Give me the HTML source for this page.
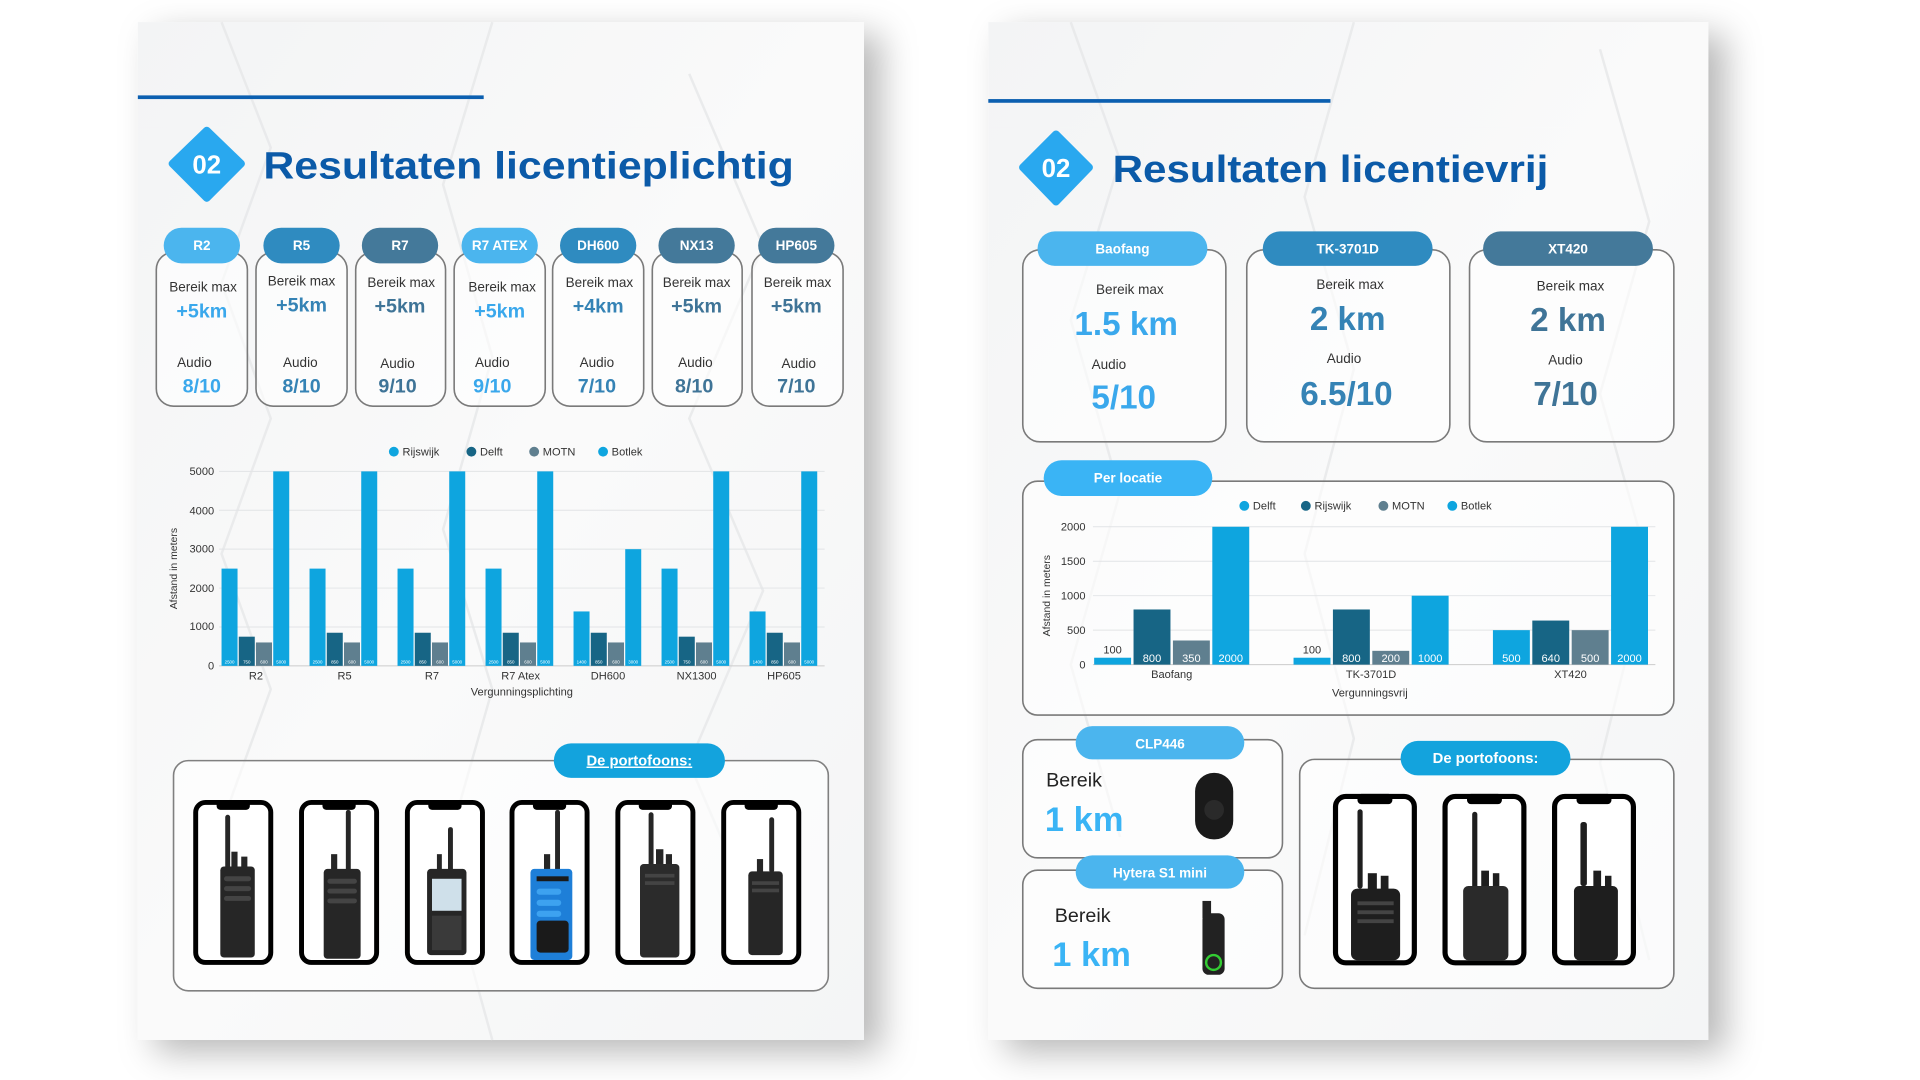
<!DOCTYPE html>
<html><head><meta charset="utf-8"><style>
html,body{margin:0;padding:0;background:#fff;width:1920px;height:1080px;overflow:hidden}
svg{display:block}
text{font-family:"Liberation Sans",Arial,sans-serif}
</style></head><body>
<svg width="1920" height="1080" viewBox="0 0 1560 877.5" xmlns="http://www.w3.org/2000/svg">
<defs>
<filter id="sh" x="-10%" y="-10%" width="130%" height="130%"><feDropShadow dx="14" dy="10" stdDeviation="14" flood-color="#000" flood-opacity="0.28"/></filter>
<linearGradient id="pg" x1="0" y1="0" x2="1" y2="1"><stop offset="0" stop-color="#f3f4f5"/><stop offset="0.5" stop-color="#fafafa"/><stop offset="1" stop-color="#f4f5f6"/></linearGradient>
<g id="phone"><rect x="2" y="2" width="61" height="130" rx="8" fill="#fff" stroke="#000" stroke-width="4"/><rect x="19" y="0" width="27" height="8" rx="3" fill="#000"/></g>
</defs>
<rect x="112" y="18" width="590" height="827" fill="url(#pg)" filter="url(#sh)"/>
<rect x="803" y="18" width="585" height="827" fill="url(#pg)" filter="url(#sh)"/>
<g stroke="#e6e7e9" stroke-width="2" fill="none" opacity="0.8">
<path d="M180 18 L220 120 L180 230 L220 340 L180 450 L220 560 L180 670 L220 780"/>
<path d="M400 18 L360 150 L400 290 L360 430 L400 560 L360 700 L400 845"/>
<path d="M560 60 L620 200 L560 340 L620 480 L560 620 L620 760"/>
<path d="M870 18 L910 130 L870 260 L910 400 L870 540 L910 680"/>
<path d="M1100 18 L1060 160 L1100 300 L1060 450 L1100 600 L1060 760"/>
<path d="M1300 40 L1340 180 L1300 320 L1340 460 L1300 620 L1340 780"/>
</g>

<rect x="112" y="77.5" width="281" height="3" fill="#0b5fb0"/>
<path d="M168 106 L196 133 L168 161 L140 133 Z" fill="#29a8ef" stroke="#29a8ef" stroke-width="6" stroke-linejoin="round"/>
<text x="168" y="141" font-size="21" font-weight="bold" fill="#fff" text-anchor="middle">02</text>
<text x="214" y="145" font-size="31" font-weight="bold" fill="#0b5aa8" textLength="431" lengthAdjust="spacingAndGlyphs">Resultaten licentieplichtig</text>

<g font-size="11" text-anchor="middle">
<g transform="translate(127,0)">
<rect x="0" y="205" width="74" height="125" rx="14" fill="#fff" fill-opacity="0.6" stroke="#7a7a7a" stroke-width="1.3"/>
<rect x="6" y="185" width="62" height="29" rx="14.5" fill="#4bb5ee"/>
<text x="37" y="203" fill="#fff" font-weight="bold" font-size="11">R2</text>
<text x="38" y="237" fill="#333">Bereik max</text>
<text x="37" y="258" fill="#3aa8ec" font-weight="bold" font-size="16">+5km</text>
<text x="31" y="298" fill="#333">Audio</text>
<text x="37" y="319" fill="#3aa8ec" font-weight="bold" font-size="16">8/10</text>
</g>
<g transform="translate(208,0)">
<rect x="0" y="205" width="74" height="125" rx="14" fill="#fff" fill-opacity="0.6" stroke="#7a7a7a" stroke-width="1.3"/>
<rect x="6" y="185" width="62" height="29" rx="14.5" fill="#2f8bc0"/>
<text x="37" y="203" fill="#fff" font-weight="bold" font-size="11">R5</text>
<text x="37" y="232" fill="#333">Bereik max</text>
<text x="37" y="253" fill="#3583b5" font-weight="bold" font-size="16">+5km</text>
<text x="36" y="298" fill="#333">Audio</text>
<text x="37" y="319" fill="#3583b5" font-weight="bold" font-size="16">8/10</text>
</g>
<g transform="translate(289,0)">
<rect x="0" y="205" width="73" height="125" rx="14" fill="#fff" fill-opacity="0.6" stroke="#7a7a7a" stroke-width="1.3"/>
<rect x="5" y="185" width="62" height="29" rx="14.5" fill="#44799a"/>
<text x="36" y="203" fill="#fff" font-weight="bold" font-size="11">R7</text>
<text x="37" y="233" fill="#333">Bereik max</text>
<text x="36" y="254" fill="#3f7497" font-weight="bold" font-size="16">+5km</text>
<text x="34" y="299" fill="#333">Audio</text>
<text x="34" y="319" fill="#3f7497" font-weight="bold" font-size="16">9/10</text>
</g>
<g transform="translate(369,0)">
<rect x="0" y="205" width="74" height="125" rx="14" fill="#fff" fill-opacity="0.6" stroke="#7a7a7a" stroke-width="1.3"/>
<rect x="6" y="185" width="62" height="29" rx="14.5" fill="#4bb5ee"/>
<text x="37" y="203" fill="#fff" font-weight="bold" font-size="11">R7 ATEX</text>
<text x="39" y="237" fill="#333">Bereik max</text>
<text x="37" y="258" fill="#3aa8ec" font-weight="bold" font-size="16">+5km</text>
<text x="31" y="298" fill="#333">Audio</text>
<text x="31" y="319" fill="#3aa8ec" font-weight="bold" font-size="16">9/10</text>
</g>
<g transform="translate(449,0)">
<rect x="0" y="205" width="74" height="125" rx="14" fill="#fff" fill-opacity="0.6" stroke="#7a7a7a" stroke-width="1.3"/>
<rect x="6" y="185" width="62" height="29" rx="14.5" fill="#2f8bc0"/>
<text x="37" y="203" fill="#fff" font-weight="bold" font-size="11">DH600</text>
<text x="38" y="233" fill="#333">Bereik max</text>
<text x="37" y="254" fill="#3583b5" font-weight="bold" font-size="16">+4km</text>
<text x="36" y="298" fill="#333">Audio</text>
<text x="36" y="319" fill="#3583b5" font-weight="bold" font-size="16">7/10</text>
</g>
<g transform="translate(530,0)">
<rect x="0" y="205" width="73" height="125" rx="14" fill="#fff" fill-opacity="0.6" stroke="#7a7a7a" stroke-width="1.3"/>
<rect x="5" y="185" width="62" height="29" rx="14.5" fill="#44799a"/>
<text x="36" y="203" fill="#fff" font-weight="bold" font-size="11">NX13</text>
<text x="36" y="233" fill="#333">Bereik max</text>
<text x="36" y="254" fill="#3f7497" font-weight="bold" font-size="16">+5km</text>
<text x="35" y="298" fill="#333">Audio</text>
<text x="34" y="319" fill="#3f7497" font-weight="bold" font-size="16">8/10</text>
</g>
<g transform="translate(611,0)">
<rect x="0" y="205" width="74" height="125" rx="14" fill="#fff" fill-opacity="0.6" stroke="#7a7a7a" stroke-width="1.3"/>
<rect x="5" y="185" width="62" height="29" rx="14.5" fill="#44799a"/>
<text x="36" y="203" fill="#fff" font-weight="bold" font-size="11">HP605</text>
<text x="37" y="233" fill="#333">Bereik max</text>
<text x="36" y="254" fill="#3f7497" font-weight="bold" font-size="16">+5km</text>
<text x="38" y="299" fill="#333">Audio</text>
<text x="36" y="319" fill="#3f7497" font-weight="bold" font-size="16">7/10</text>
</g>
</g>

<g font-size="9" fill="#333">
<circle cx="320" cy="367" r="4" fill="#0ea5df"/><text x="327" y="370">Rijswijk</text>
<circle cx="383" cy="367" r="4" fill="#176585"/><text x="390" y="370">Delft</text>
<circle cx="434" cy="367" r="4" fill="#5f7f8f"/><text x="441" y="370">MOTN</text>
<circle cx="490" cy="367" r="4" fill="#0ea5df"/><text x="497" y="370">Botlek</text>
</g>
<g stroke="#e2e4e6" stroke-width="0.8">
<line x1="178" y1="383" x2="670" y2="383"/><line x1="178" y1="414.6" x2="670" y2="414.6"/><line x1="178" y1="446.2" x2="670" y2="446.2"/><line x1="178" y1="477.8" x2="670" y2="477.8"/><line x1="178" y1="509.4" x2="670" y2="509.4"/><line x1="178" y1="541" x2="670" y2="541" stroke="#ccc"/>
</g>
<g font-size="9" fill="#333" text-anchor="end">
<text x="174" y="386">5000</text><text x="174" y="418">4000</text><text x="174" y="449">3000</text><text x="174" y="481">2000</text><text x="174" y="512">1000</text><text x="174" y="544">0</text>
</g>
<text transform="translate(144,462) rotate(-90)" font-size="8.5" fill="#333" text-anchor="middle">Afstand in meters</text>
<g font-size="9" fill="#333" text-anchor="middle">
<text x="208" y="552">R2</text><text x="280" y="552">R5</text><text x="351" y="552">R7</text><text x="423" y="552">R7 Atex</text><text x="494" y="552">DH600</text><text x="566" y="552">NX1300</text><text x="637" y="552">HP605</text>
<text x="424" y="565">Vergunningsplichting</text>
</g>
<g font-size="3.6" fill="#fff" text-anchor="middle">
<g transform="translate(180,0)"><rect x="0" y="462" width="13" height="79" fill="#0ea5df"/><rect x="14" y="517.3" width="13" height="23.7" fill="#176585"/><rect x="28" y="522" width="13" height="19" fill="#5f7f8f"/><rect x="42" y="383" width="13" height="158" fill="#0ea5df"/><text x="6.5" y="539">2500</text><text x="20.5" y="539">750</text><text x="34.5" y="539">600</text><text x="48.5" y="539">5000</text></g>
<g transform="translate(251.5,0)"><rect x="0" y="462" width="13" height="79" fill="#0ea5df"/><rect x="14" y="514.1" width="13" height="26.9" fill="#176585"/><rect x="28" y="522" width="13" height="19" fill="#5f7f8f"/><rect x="42" y="383" width="13" height="158" fill="#0ea5df"/><text x="6.5" y="539">2500</text><text x="20.5" y="539">850</text><text x="34.5" y="539">600</text><text x="48.5" y="539">5000</text></g>
<g transform="translate(323,0)"><rect x="0" y="462" width="13" height="79" fill="#0ea5df"/><rect x="14" y="514.1" width="13" height="26.9" fill="#176585"/><rect x="28" y="522" width="13" height="19" fill="#5f7f8f"/><rect x="42" y="383" width="13" height="158" fill="#0ea5df"/><text x="6.5" y="539">2500</text><text x="20.5" y="539">850</text><text x="34.5" y="539">600</text><text x="48.5" y="539">5000</text></g>
<g transform="translate(394.5,0)"><rect x="0" y="462" width="13" height="79" fill="#0ea5df"/><rect x="14" y="514.1" width="13" height="26.9" fill="#176585"/><rect x="28" y="522" width="13" height="19" fill="#5f7f8f"/><rect x="42" y="383" width="13" height="158" fill="#0ea5df"/><text x="6.5" y="539">2500</text><text x="20.5" y="539">850</text><text x="34.5" y="539">600</text><text x="48.5" y="539">5000</text></g>
<g transform="translate(466,0)"><rect x="0" y="496.8" width="13" height="44.2" fill="#0ea5df"/><rect x="14" y="514.1" width="13" height="26.9" fill="#176585"/><rect x="28" y="522" width="13" height="19" fill="#5f7f8f"/><rect x="42" y="446.2" width="13" height="94.8" fill="#0ea5df"/><text x="6.5" y="539">1400</text><text x="20.5" y="539">850</text><text x="34.5" y="539">600</text><text x="48.5" y="539">3000</text></g>
<g transform="translate(537.5,0)"><rect x="0" y="462" width="13" height="79" fill="#0ea5df"/><rect x="14" y="517.3" width="13" height="23.7" fill="#176585"/><rect x="28" y="522" width="13" height="19" fill="#5f7f8f"/><rect x="42" y="383" width="13" height="158" fill="#0ea5df"/><text x="6.5" y="539">2500</text><text x="20.5" y="539">750</text><text x="34.5" y="539">600</text><text x="48.5" y="539">5000</text></g>
<g transform="translate(609,0)"><rect x="0" y="496.8" width="13" height="44.2" fill="#0ea5df"/><rect x="14" y="514.1" width="13" height="26.9" fill="#176585"/><rect x="28" y="522" width="13" height="19" fill="#5f7f8f"/><rect x="42" y="383" width="13" height="158" fill="#0ea5df"/><text x="6.5" y="539">1400</text><text x="20.5" y="539">850</text><text x="34.5" y="539">600</text><text x="48.5" y="539">5000</text></g>
</g>

<rect x="141" y="618" width="532" height="187" rx="12" fill="#fff" fill-opacity="0.6" stroke="#808080" stroke-width="1.3"/>
<rect x="450" y="604" width="139" height="28" rx="14" fill="#13a3dd"/>
<text x="519.5" y="622" font-size="12" font-weight="bold" fill="#fff" text-anchor="middle" text-decoration="underline">De portofoons:</text>
<g fill="#262626">
<g transform="translate(157,650)"><use href="#phone"/><rect x="26" y="12" width="4" height="50" rx="2"/><rect x="31" y="42" width="5" height="14"/><rect x="39" y="46" width="5" height="10"/><rect x="22" y="54" width="28" height="74" rx="3"/><rect x="25" y="62" width="22" height="4" rx="2" fill="#444"/><rect x="25" y="70" width="22" height="4" rx="2" fill="#444"/><rect x="25" y="78" width="22" height="4" rx="2" fill="#444"/></g>
<g transform="translate(243,650)"><use href="#phone"/><rect x="38" y="8" width="4" height="55" rx="2"/><rect x="26" y="44" width="5" height="14"/><rect x="20" y="56" width="30" height="73" rx="3"/><rect x="23" y="64" width="24" height="4" rx="2" fill="#444"/><rect x="23" y="72" width="24" height="4" rx="2" fill="#444"/><rect x="23" y="80" width="24" height="4" rx="2" fill="#444"/></g>
<g transform="translate(329,650)"><use href="#phone"/><rect x="35" y="22" width="4" height="40" rx="2"/><rect x="26" y="44" width="4" height="14"/><rect x="18" y="56" width="32" height="70" rx="3"/><rect x="22" y="64" width="24" height="26" fill="#cfe0ea"/><rect x="22" y="94" width="24" height="28" fill="#3a3a3a"/></g>
<g transform="translate(414,650)"><use href="#phone"/><rect x="37" y="8" width="4" height="52" rx="2"/><rect x="28" y="44" width="5" height="14"/><rect x="17" y="56" width="34" height="74" rx="3" fill="#1e7fd8"/><rect x="22" y="62" width="26" height="4" fill="#1a1a1a"/><rect x="22" y="72" width="20" height="5" rx="2.5" fill="#3da2f0"/><rect x="22" y="81" width="20" height="5" rx="2.5" fill="#3da2f0"/><rect x="22" y="90" width="20" height="5" rx="2.5" fill="#3da2f0"/><rect x="22" y="98" width="26" height="26" rx="3" fill="#1a1a1a"/></g>
<g transform="translate(500,650)"><use href="#phone"/><rect x="27" y="10" width="4" height="50" rx="2"/><rect x="33" y="40" width="6" height="16"/><rect x="41" y="44" width="5" height="12"/><rect x="20" y="52" width="32" height="76" rx="3" fill="#2b2b2b"/><rect x="24" y="60" width="24" height="3" fill="#444"/><rect x="24" y="66" width="24" height="3" fill="#444"/></g>
<g transform="translate(586,650)"><use href="#phone"/><rect x="39" y="14" width="4" height="45" rx="2"/><rect x="29" y="48" width="5" height="12"/><rect x="22" y="58" width="28" height="68" rx="3"/><rect x="25" y="66" width="22" height="3" fill="#444"/><rect x="25" y="72" width="22" height="3" fill="#444"/></g>
</g>

<rect x="803" y="80.5" width="278" height="3" fill="#0b5fb0"/>
<path d="M858 109 L885 136 L858 164 L831 136 Z" fill="#29a8ef" stroke="#29a8ef" stroke-width="6" stroke-linejoin="round"/>
<text x="858" y="144" font-size="21" font-weight="bold" fill="#fff" text-anchor="middle">02</text>
<text x="904" y="148" font-size="31" font-weight="bold" fill="#0b5aa8" textLength="354" lengthAdjust="spacingAndGlyphs">Resultaten licentievrij</text>

<g text-anchor="middle">
<rect x="831" y="203" width="165" height="156" rx="14" fill="#fff" fill-opacity="0.6" stroke="#7a7a7a" stroke-width="1.3"/>
<rect x="843" y="188" width="138" height="28" rx="14" fill="#4bb5ee"/>
<text x="912" y="206" font-size="11" font-weight="bold" fill="#fff">Baofang</text>
<text x="918" y="239" font-size="11" fill="#333">Bereik max</text>
<text x="915" y="272" font-size="27" font-weight="bold" fill="#3aa8ec">1.5 km</text>
<text x="901" y="300" font-size="11" fill="#333">Audio</text>
<text x="913" y="332" font-size="27" font-weight="bold" fill="#3aa8ec">5/10</text>

<rect x="1013" y="203" width="165" height="156" rx="14" fill="#fff" fill-opacity="0.6" stroke="#7a7a7a" stroke-width="1.3"/>
<rect x="1026" y="188" width="138" height="28" rx="14" fill="#2f8bc0"/>
<text x="1095" y="206" font-size="11" font-weight="bold" fill="#fff">TK-3701D</text>
<text x="1097" y="235" font-size="11" fill="#333">Bereik max</text>
<text x="1095" y="268" font-size="27" font-weight="bold" fill="#3583b5">2 km</text>
<text x="1092" y="295" font-size="11" fill="#333">Audio</text>
<text x="1094" y="329" font-size="27" font-weight="bold" fill="#3583b5">6.5/10</text>

<rect x="1194" y="203" width="166" height="156" rx="14" fill="#fff" fill-opacity="0.6" stroke="#7a7a7a" stroke-width="1.3"/>
<rect x="1205" y="188" width="138" height="28" rx="14" fill="#44799a"/>
<text x="1274" y="206" font-size="11" font-weight="bold" fill="#fff">XT420</text>
<text x="1276" y="236" font-size="11" fill="#333">Bereik max</text>
<text x="1274" y="269" font-size="27" font-weight="bold" fill="#3f7497">2 km</text>
<text x="1272" y="296" font-size="11" fill="#333">Audio</text>
<text x="1272" y="329" font-size="27" font-weight="bold" fill="#3f7497">7/10</text>
</g>

<rect x="831" y="391" width="529" height="190" rx="12" fill="#fff" fill-opacity="0.6" stroke="#7a7a7a" stroke-width="1.3"/>
<rect x="848" y="374" width="137" height="29" rx="14.5" fill="#3ab4f5"/>
<text x="916.5" y="392" font-size="11" font-weight="bold" fill="#fff" text-anchor="middle">Per locatie</text>
<g font-size="9" fill="#333">
<circle cx="1011" cy="411" r="4" fill="#0ea5df"/><text x="1018" y="414">Delft</text>
<circle cx="1061" cy="411" r="4" fill="#176585"/><text x="1068" y="414">Rijswijk</text>
<circle cx="1124" cy="411" r="4" fill="#5f7f8f"/><text x="1131" y="414">MOTN</text>
<circle cx="1180" cy="411" r="4" fill="#0ea5df"/><text x="1187" y="414">Botlek</text>
</g>
<g stroke="#e2e4e6" stroke-width="0.8">
<line x1="888" y1="428" x2="1345" y2="428"/><line x1="888" y1="456" x2="1345" y2="456"/><line x1="888" y1="484" x2="1345" y2="484"/><line x1="888" y1="512" x2="1345" y2="512"/><line x1="888" y1="540" x2="1345" y2="540" stroke="#ccc"/>
</g>
<g font-size="9" fill="#333" text-anchor="end">
<text x="882" y="431">2000</text><text x="882" y="459">1500</text><text x="882" y="487">1000</text><text x="882" y="515">500</text><text x="882" y="543">0</text>
</g>
<text transform="translate(853,484) rotate(-90)" font-size="8.5" fill="#333" text-anchor="middle">Afstand in meters</text>
<g font-size="9" fill="#333" text-anchor="middle">
<text x="952" y="551">Baofang</text><text x="1114" y="551">TK-3701D</text><text x="1276" y="551">XT420</text>
<text x="1113" y="566">Vergunningsvrij</text>
</g>
<g font-size="9" fill="#fff" text-anchor="middle">
<g transform="translate(889,0)"><rect x="0" y="534.4" width="30" height="5.6" fill="#0ea5df"/><rect x="32" y="495.2" width="30" height="44.8" fill="#176585"/><rect x="64" y="520.4" width="30" height="19.6" fill="#5f7f8f"/><rect x="96" y="428" width="30" height="112" fill="#0ea5df"/><text x="15" y="531" fill="#333">100</text><text x="47" y="538">800</text><text x="79" y="538">350</text><text x="111" y="538">2000</text></g>
<g transform="translate(1051,0)"><rect x="0" y="534.4" width="30" height="5.6" fill="#0ea5df"/><rect x="32" y="495.2" width="30" height="44.8" fill="#176585"/><rect x="64" y="528.8" width="30" height="11.2" fill="#5f7f8f"/><rect x="96" y="484" width="30" height="56" fill="#0ea5df"/><text x="15" y="531" fill="#333">100</text><text x="47" y="538">800</text><text x="79" y="538">200</text><text x="111" y="538">1000</text></g>
<g transform="translate(1213,0)"><rect x="0" y="512" width="30" height="28" fill="#0ea5df"/><rect x="32" y="504.2" width="30" height="35.8" fill="#176585"/><rect x="64" y="512" width="30" height="28" fill="#5f7f8f"/><rect x="96" y="428" width="30" height="112" fill="#0ea5df"/><text x="15" y="538">500</text><text x="47" y="538">640</text><text x="79" y="538">500</text><text x="111" y="538">2000</text></g>
</g>

<rect x="831" y="601" width="211" height="96" rx="12" fill="#fff" fill-opacity="0.6" stroke="#7a7a7a" stroke-width="1.3"/>
<rect x="874" y="590" width="137" height="27" rx="13.5" fill="#4bb5ee"/>
<text x="942.5" y="608" font-size="11" font-weight="bold" fill="#fff" text-anchor="middle">CLP446</text>
<text x="850" y="639" font-size="16" fill="#222">Bereik</text>
<text x="849" y="675" font-size="28" font-weight="bold" fill="#3ab4f5">1 km</text>
<rect x="971" y="628" width="31" height="54" rx="15" fill="#1a1a1a"/><circle cx="986.5" cy="658" r="8" fill="#2a2a2a"/>

<rect x="831" y="707" width="211" height="96" rx="12" fill="#fff" fill-opacity="0.6" stroke="#7a7a7a" stroke-width="1.3"/>
<rect x="874" y="695" width="137" height="27" rx="13.5" fill="#4bb5ee"/>
<text x="942.5" y="713" font-size="11" font-weight="bold" fill="#fff" text-anchor="middle">Hytera S1 mini</text>
<text x="857" y="749" font-size="16" fill="#222">Bereik</text>
<text x="855" y="785" font-size="28" font-weight="bold" fill="#3ab4f5">1 km</text>
<rect x="977" y="742" width="18" height="50" rx="5" fill="#222"/><rect x="977" y="732" width="7" height="14" fill="#222"/><circle cx="986" cy="782" r="6" fill="none" stroke="#3c3" stroke-width="2"/>

<rect x="1056" y="617" width="304" height="186" rx="12" fill="#fff" fill-opacity="0.6" stroke="#7a7a7a" stroke-width="1.3"/>
<rect x="1138" y="602" width="138" height="28" rx="14" fill="#13a3dd"/>
<text x="1207" y="620" font-size="12" font-weight="bold" fill="#fff" text-anchor="middle">De portofoons:</text>
<g fill="#1e1e1e">
<g transform="translate(1083,645) scale(1.05,1.04)"><use href="#phone"/><rect x="19" y="12" width="4" height="62" rx="2"/><rect x="27" y="62" width="7" height="14"/><rect x="37" y="64" width="6" height="12"/><rect x="14" y="74" width="38" height="56" rx="5"/><rect x="19" y="84" width="28" height="3" fill="#444"/><rect x="19" y="91" width="28" height="3" fill="#444"/><rect x="19" y="98" width="28" height="3" fill="#444"/></g>
<g transform="translate(1172,645) scale(1.05,1.04)"><use href="#phone"/><rect x="23" y="14" width="4" height="60" rx="2"/><rect x="30" y="60" width="6" height="14"/><rect x="39" y="62" width="5" height="12"/><rect x="16" y="72" width="35" height="58" rx="4" fill="#2a2a2a"/></g>
<g transform="translate(1261,645) scale(1.05,1.04)"><use href="#phone"/><rect x="22" y="22" width="5" height="50" rx="2"/><rect x="32" y="60" width="6" height="14"/><rect x="41" y="64" width="5" height="10"/><rect x="17" y="72" width="34" height="58" rx="4"/></g>
</g>
</svg>
</body></html>
